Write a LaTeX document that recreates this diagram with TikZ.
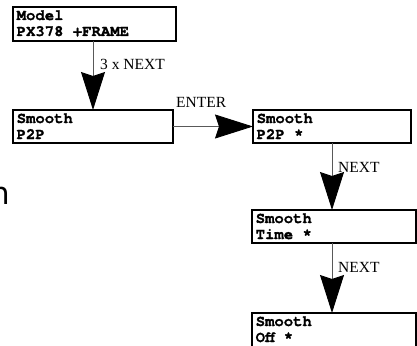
\documentclass[tikz,border=0pt]{standalone}
\usepackage{fontspec}
\setmainfont{Liberation Serif}
\newfontfamily\monofam{texgyrecursor-bold.otf}[FakeBold=1.2]
\newfontfamily\sansfrag{DejaVu Sans}
\usetikzlibrary{arrows.meta,calc}
\begin{document}
\begin{tikzpicture}[x=1pt,y=-1pt,
  box/.style={draw=black,line width=1.1pt,anchor=north west,inner sep=0pt,outer sep=0pt},
  ln/.style={anchor=base west,inner sep=0pt,font=\monofam\fontsize{15.6}{16}\selectfont},
  lab/.style={anchor=base west,inner sep=0pt,font=\fontsize{15.5}{16}\selectfont},
  conn/.style={draw=black!65,line width=0.9pt,-{Stealth[length=38pt,width=24pt,inset=4pt,color=black]}}]
\useasboundingbox (0,0) rectangle (417,345);
\clip (0,0) rectangle (417,345);

\node[box,minimum width=163pt,minimum height=34pt] (b1) at (13,7) {};
\node[box,minimum width=160pt,minimum height=33pt] (b2) at (13,110) {};
\node[box,minimum width=158pt,minimum height=33pt] (b3) at (253,110) {};
\node[box,minimum width=164pt,minimum height=33pt] (b4) at (252,210) {};
\node[box,minimum width=164pt,minimum height=34pt] (b5) at (252,313) {};

\node[ln] (t1a) at ($(b1.north west)+(3.5,13)$) {Model};
\node[ln] (t1b) at ($(b1.north west)+(3.5,29)$) {PX378 +FRAME};
\node[ln] (t2a) at ($(b2.north west)+(3.5,13)$) {Smooth};
\node[ln] (t2b) at ($(b2.north west)+(3.5,29)$) {P2P};
\node[ln] (t3a) at ($(b3.north west)+(3.5,13)$) {Smooth};
\node[ln] (t3b) at ($(b3.north west)+(3.5,29)$) {P2P *};
\node[ln] (t4a) at ($(b4.north west)+(3.5,13)$) {Smooth};
\node[ln] (t4b) at ($(b4.north west)+(3.5,29)$) {Time *};
\node[ln] (t5a) at ($(b5.north west)+(3.5,13)$) {Smooth};
\node[ln] (t5b) at ($(b5.north west)+(3.5,29)$) {Off *};

\draw[conn] (b1.south -| b2.north) -- (b2.north);
\draw[conn] (b2.east) -- (b2.east -| b3.west);
\draw[conn] (b3.south) -- (b3.south |- b4.north);
\draw[conn] (b4.south -| b3.south) -- (b3.south |- b5.north);

\node[lab] (l1) at (100,69) {3 x NEXT};
\node[lab] (l2) at (176,107) {ENTER};
\node[lab] (l3) at (338,172) {NEXT};
\node[lab] (l4) at (338,272) {NEXT};

\node[anchor=base east,inner sep=0pt,font=\sansfrag\fontsize{31}{31}\selectfont] (frag) at (10,204) {n};
\end{tikzpicture}
\end{document}
